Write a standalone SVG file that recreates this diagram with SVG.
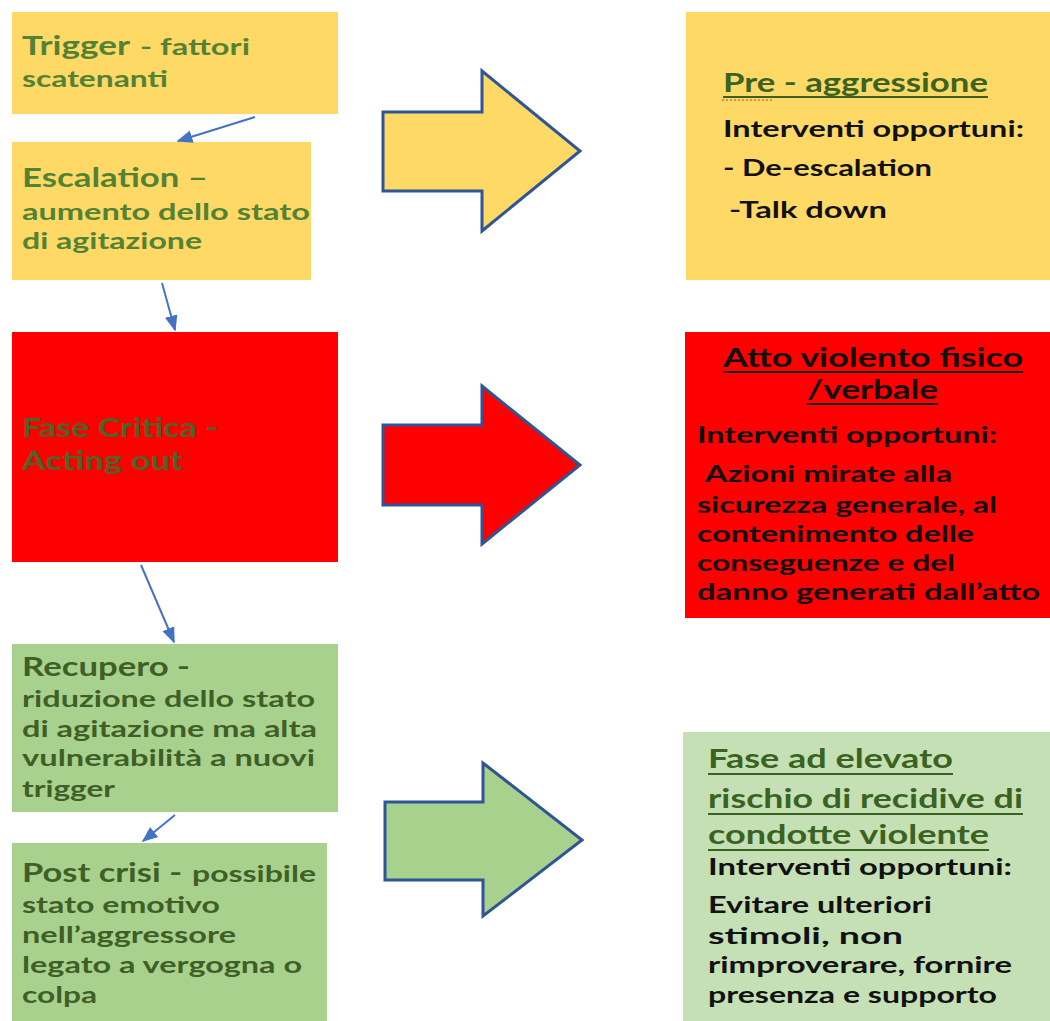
<svg xmlns="http://www.w3.org/2000/svg" width="1050" height="1021" viewBox="0 0 1050 1021">
<style>
text{font-family:Lato,"Open Sans","Liberation Sans",sans-serif;font-weight:700;}
.big{font-size:26px;}
.mid{font-size:23px;}
.g1{fill:#548235;}
.g2{fill:#4F6228;}
.g3{fill:#3F5F27;}
.dk{fill:#111;}
.ttl{fill:#3A6322;}
.conn{stroke:#4472C4;stroke-width:2;fill:none;marker-end:url(#ah);}
.bigarrow{stroke:#2F5597;stroke-width:3;stroke-linejoin:miter;}
.ul{stroke-width:2;}
</style>
<defs>
<marker id="ah" viewBox="0 0 10 10" refX="9" refY="5" markerWidth="8" markerHeight="8" orient="auto" markerUnits="strokeWidth">
<path d="M0,1 L10,5 L0,9 z" fill="#4472C4"/>
</marker>
</defs>
<rect width="1050" height="1021" fill="#fff"/>

<g id="trigger">
<rect x="12" y="12" width="326" height="102" fill="#FFD966"/>
<text class="big g1" x="22" y="55" textLength="108" lengthAdjust="spacingAndGlyphs">Trigger</text>
<text class="mid g1" x="140" y="55" textLength="110" lengthAdjust="spacingAndGlyphs">- fattori</text>
<text class="mid g1" x="22" y="87" textLength="146" lengthAdjust="spacingAndGlyphs">scatenanti</text>
</g>

<g id="escalation">
<rect x="12" y="142" width="299" height="138" fill="#FFD966"/>
<text class="big g1" x="22" y="187" textLength="186" lengthAdjust="spacingAndGlyphs">Escalation –</text>
<text class="mid g1" x="22" y="220" textLength="288" lengthAdjust="spacingAndGlyphs">aumento dello stato</text>
<text class="mid g1" x="22" y="249" textLength="180" lengthAdjust="spacingAndGlyphs">di agitazione</text>
</g>

<g id="fase-critica">
<rect x="12" y="332" width="326" height="230" fill="#FF0000"/>
<text class="big g2" x="22" y="437" textLength="196" lengthAdjust="spacingAndGlyphs">Fase Critica -</text>
<text class="big g2" x="22" y="470" textLength="161" lengthAdjust="spacingAndGlyphs">Acting out</text>
</g>

<g id="recupero">
<rect x="12" y="644" width="326" height="168" fill="#A9D18E"/>
<text class="big g3" x="22" y="676" textLength="168" lengthAdjust="spacingAndGlyphs">Recupero -</text>
<text class="mid g3" x="22" y="707" textLength="293" lengthAdjust="spacingAndGlyphs">riduzione dello stato</text>
<text class="mid g3" x="22" y="737" textLength="295" lengthAdjust="spacingAndGlyphs">di agitazione ma alta</text>
<text class="mid g3" x="22" y="766" textLength="293" lengthAdjust="spacingAndGlyphs">vulnerabilità a nuovi</text>
<text class="mid g3" x="22" y="797" textLength="93" lengthAdjust="spacingAndGlyphs">trigger</text>
</g>

<g id="post-crisi">
<rect x="12" y="843" width="315" height="178" fill="#A9D18E"/>
<text class="big g3" x="22" y="882" textLength="160" lengthAdjust="spacingAndGlyphs">Post crisi -</text>
<text class="mid g3" x="192" y="882" textLength="124" lengthAdjust="spacingAndGlyphs">possibile</text>
<text class="mid g3" x="22" y="913" textLength="198" lengthAdjust="spacingAndGlyphs">stato emotivo</text>
<text class="mid g3" x="22" y="943" textLength="214" lengthAdjust="spacingAndGlyphs">nell’aggressore</text>
<text class="mid g3" x="22" y="973" textLength="280" lengthAdjust="spacingAndGlyphs">legato a vergogna o</text>
<text class="mid g3" x="22" y="1003" textLength="75" lengthAdjust="spacingAndGlyphs">colpa</text>
</g>

<g id="arrow-yellow">
<path class="bigarrow" fill="#FFD966" d="M383,112 L482,112 L482,71 L580,151 L482,231 L482,191 L383,191 Z"/>
</g>
<g id="arrow-red">
<path class="bigarrow" fill="#FF0000" d="M383,425 L482,425 L482,386 L580,465 L482,544 L482,505 L383,505 Z"/>
</g>
<g id="arrow-green">
<path class="bigarrow" fill="#A9D18E" d="M385,802 L483,802 L483,763 L582,840 L483,916 L483,880 L385,880 Z"/>
</g>

<g id="pre-aggressione">
<rect x="686" y="12" width="364" height="268" fill="#FFD966"/>
<text class="big ttl" x="723" y="92" textLength="265" lengthAdjust="spacingAndGlyphs">Pre - aggressione</text>
<line class="ul" x1="723" y1="97" x2="988" y2="97" stroke="#3A6322"/>
<line x1="722" y1="100" x2="773" y2="100" stroke="#E03030" stroke-width="1.2" stroke-dasharray="2,2"/>
<text class="mid dk" x="723" y="137" textLength="301" lengthAdjust="spacingAndGlyphs">Interventi opportuni:</text>
<text class="mid dk" x="723" y="176" textLength="209" lengthAdjust="spacingAndGlyphs">- De-escalation</text>
<text class="mid dk" x="729" y="218" textLength="158" lengthAdjust="spacingAndGlyphs">-Talk down</text>
</g>

<g id="atto-violento">
<rect x="685" y="332" width="365" height="286" fill="#FF0000"/>
<text class="big dk" x="723" y="367" textLength="300" lengthAdjust="spacingAndGlyphs">Atto violento fisico</text>
<line class="ul" x1="723" y1="372" x2="1023" y2="372" stroke="#111"/>
<text class="big dk" x="807" y="399" textLength="131" lengthAdjust="spacingAndGlyphs">/verbale</text>
<line class="ul" x1="807" y1="404" x2="938" y2="404" stroke="#111"/>
<text class="mid dk" x="697" y="443" textLength="300" lengthAdjust="spacingAndGlyphs">Interventi opportuni:</text>
<text class="mid dk" x="705" y="482" textLength="247" lengthAdjust="spacingAndGlyphs">Azioni mirate alla</text>
<text class="mid dk" x="697" y="513" textLength="300" lengthAdjust="spacingAndGlyphs">sicurezza generale, al</text>
<text class="mid dk" x="697" y="542" textLength="277" lengthAdjust="spacingAndGlyphs">contenimento delle</text>
<text class="mid dk" x="697" y="571" textLength="258" lengthAdjust="spacingAndGlyphs">conseguenze e del</text>
<text class="mid dk" x="697" y="600" textLength="343" lengthAdjust="spacingAndGlyphs">danno generati dall’atto</text>
</g>

<g id="fase-elevato-rischio">
<rect x="683" y="732" width="367" height="289" fill="#C5E0B4"/>
<text class="big ttl" x="708" y="768" textLength="245" lengthAdjust="spacingAndGlyphs">Fase ad elevato</text>
<line class="ul" x1="708" y1="774" x2="953" y2="774" stroke="#3A6322"/>
<text class="big ttl" x="708" y="808" textLength="315" lengthAdjust="spacingAndGlyphs">rischio di recidive di</text>
<line class="ul" x1="708" y1="814" x2="1023" y2="814" stroke="#3A6322"/>
<text class="big ttl" x="708" y="844" textLength="281" lengthAdjust="spacingAndGlyphs">condotte violente</text>
<line class="ul" x1="708" y1="850" x2="989" y2="850" stroke="#3A6322"/>
<text class="mid dk" x="708" y="875" textLength="304" lengthAdjust="spacingAndGlyphs">Interventi opportuni:</text>
<text class="mid dk" x="708" y="913" textLength="224" lengthAdjust="spacingAndGlyphs">Evitare ulteriori</text>
<text class="mid dk" x="708" y="944" textLength="195" lengthAdjust="spacingAndGlyphs">stimoli, non</text>
<text class="mid dk" x="708" y="973" textLength="304" lengthAdjust="spacingAndGlyphs">rimproverare, fornire</text>
<text class="mid dk" x="708" y="1003" textLength="289" lengthAdjust="spacingAndGlyphs">presenza e supporto</text>
</g>

<g id="connectors">
<line class="conn" x1="255" y1="117" x2="178" y2="141"/>
<line class="conn" x1="162" y1="283" x2="175" y2="330"/>
<line class="conn" x1="141" y1="565" x2="174" y2="642"/>
<line class="conn" x1="175" y1="815" x2="143" y2="841"/>
</g>
</svg>
